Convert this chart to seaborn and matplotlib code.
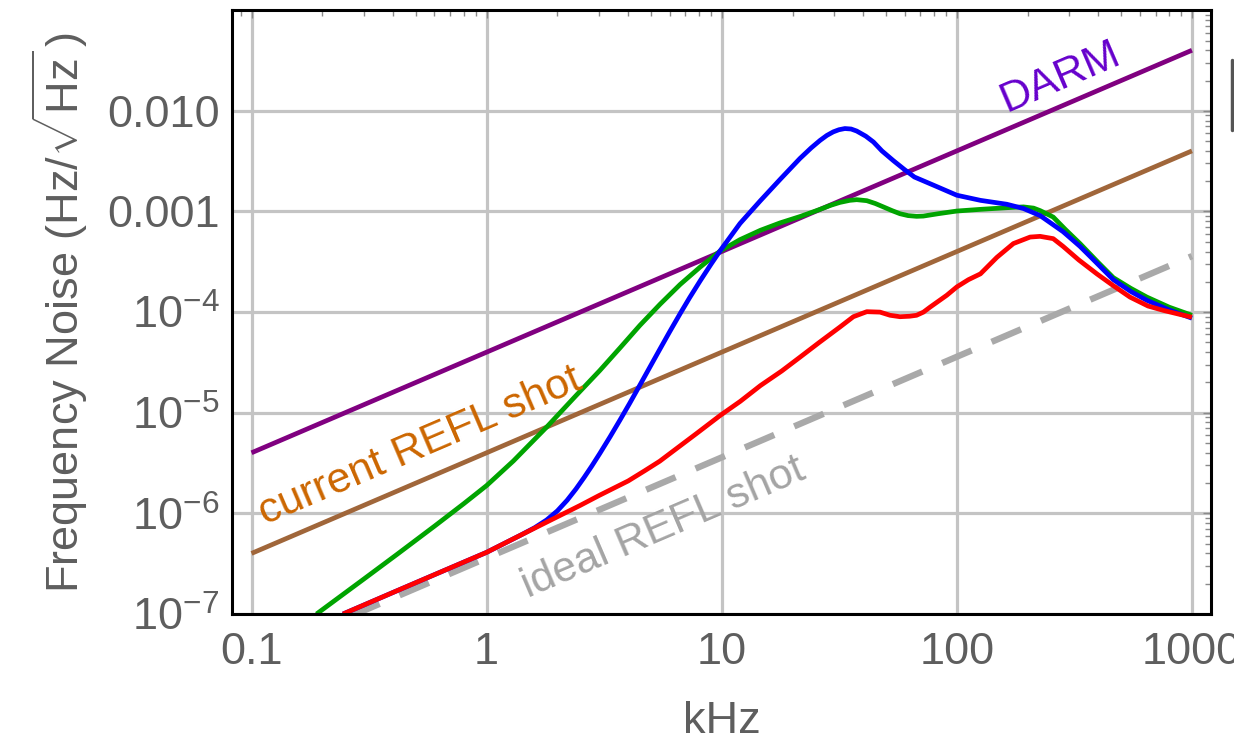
import matplotlib
matplotlib.use("Agg")
import matplotlib.pyplot as plt
import seaborn as sns
import pandas as pd
from matplotlib.ticker import FixedLocator, FixedFormatter, LogLocator, NullFormatter
from matplotlib.lines import Line2D

# ---- noise budget data: frequency in kHz, noise in Hz/sqrt(Hz) ----
darm_f = [0.1, 1000]
darm_v = [4.0e-6, 4.0e-2]

current_f = [0.1, 1000]
current_v = [4.0e-7, 4.0e-3]

ideal_f = [0.1, 1000]
ideal_v = [3.6e-8, 3.6e-4]

green_f = [0.189, 0.3, 0.415, 0.6, 0.8, 1.0, 1.3, 1.8, 2.4, 3.03, 3.69, 4.49, 5.47,
           6.65, 8.09, 9.85, 11.96, 14.6, 17.7, 21.5, 26.2, 29, 31.8, 35, 37.5, 41.4,
           45, 48.7, 53, 57.3, 62, 67.4, 72, 83.3, 100, 126, 163, 192, 212, 226,
           257, 290, 334, 400, 463, 550, 643, 800, 1000]
green_v = [1.0e-7, 2.22e-7, 3.9e-7, 7.46e-7, 1.25e-6, 1.89e-6, 3.32e-6, 7.2e-6,
           1.48e-5, 2.63e-5, 4.4e-5, 7.4e-5, 1.2e-4, 1.88e-4, 2.8e-4, 4.05e-4,
           5.25e-4, 6.5e-4, 7.7e-4, 8.9e-4, 1.05e-3, 1.15e-3, 1.23e-3, 1.29e-3,
           1.31e-3, 1.28e-3, 1.2e-3, 1.11e-3, 1.02e-3, 9.5e-4, 9.1e-4, 8.95e-4,
           9.0e-4, 9.5e-4, 1.01e-3, 1.05e-3, 1.09e-3, 1.11e-3, 1.08e-3, 1.02e-3,
           8.8e-4, 6.6e-4, 4.8e-4, 3.1e-4, 2.2e-4, 1.72e-4, 1.41e-4, 1.12e-4, 9.3e-5]

blue_f = [0.245, 0.415, 0.6, 1.0, 1.4, 1.6, 1.8, 2.0, 2.2, 2.4, 2.6, 2.8, 3.03, 3.35,
          3.69, 4.05, 4.49, 5.0, 5.47, 6.0, 6.65, 7.3, 8.09, 9.0, 9.85, 11.96, 14.6,
          17.7, 21.5, 24, 26.2, 28, 29.8, 31.5, 33.4, 35.5, 37.5, 41, 44.2, 48, 53.7,
          60, 66, 79.8, 100, 126, 163, 192, 226, 283, 334, 370, 463, 550, 643, 800,
          1000]
blue_v = [1.0e-7, 1.7e-7, 2.46e-7, 4.1e-7, 6.1e-7, 7.2e-7, 8.6e-7, 1.06e-6, 1.35e-6,
          1.75e-6, 2.28e-6, 2.95e-6, 3.94e-6, 5.77e-6, 8.45e-6, 1.23e-5, 1.89e-5,
          2.97e-5, 4.33e-5, 6.36e-5, 9.64e-5, 1.39e-4, 2.04e-4, 2.99e-4, 4.08e-4,
          7.6e-4, 1.28e-3, 2.08e-3, 3.36e-3, 4.28e-3, 5.09e-3, 5.7e-3, 6.18e-3,
          6.49e-3, 6.67e-3, 6.6e-3, 6.3e-3, 5.6e-3, 4.9e-3, 4.0e-3, 3.2e-3, 2.6e-3,
          2.2e-3, 1.82e-3, 1.45e-3, 1.29e-3, 1.18e-3, 1.07e-3, 9.1e-4, 6.3e-4,
          4.5e-4, 3.55e-4, 2.1e-4, 1.6e-4, 1.31e-4, 1.05e-4, 8.7e-5]

red_f = [0.245, 0.415, 0.6, 1.0, 1.4, 1.86, 2.5, 3.0, 4.0, 4.7, 5.45, 6.5, 7.8, 9.85,
         12, 14.6, 18, 21.5, 26, 31.8, 36.3, 41.4, 47.1, 52, 57.3, 63, 67.4, 72.1,
         76.9, 90.6, 100, 112, 126, 148, 174, 205, 226, 257, 283, 330, 394, 460,
         545, 650, 756, 870, 1000]
red_v = [1.0e-7, 1.7e-7, 2.46e-7, 4.1e-7, 6.1e-7, 8.5e-7, 1.2e-6, 1.5e-6, 2.1e-6,
         2.65e-6, 3.3e-6, 4.5e-6, 6.2e-6, 9.4e-6, 1.3e-5, 1.86e-5, 2.6e-5, 3.56e-5,
         5.0e-5, 7.1e-5, 9.0e-5, 1.01e-4, 1.0e-4, 9.3e-5, 9.0e-5, 9.1e-5, 9.3e-5,
         1.0e-4, 1.12e-4, 1.47e-4, 1.78e-4, 2.1e-4, 2.4e-4, 3.5e-4, 4.8e-4,
         5.57e-4, 5.66e-4, 5.37e-4, 4.5e-4, 3.3e-4, 2.4e-4, 1.85e-4, 1.41e-4,
         1.15e-4, 1.04e-4, 9.6e-5, 8.9e-5]

x_ticks = [0.1, 1, 10, 100, 1000]
x_labels = ["0.1", "1", "10", "100", "1000"]
y_ticks = [1e-7, 1e-6, 1e-5, 1e-4, 1e-3, 1e-2]
y_labels = [r"$10^{-7}$", r"$10^{-6}$", r"$10^{-5}$", r"$10^{-4}$", "0.001", "0.010"]

# ---- style ----
sns.set_theme(style="white")
plt.rcParams["font.family"] = ["Liberation Sans", "DejaVu Sans"]
plt.rcParams["mathtext.fontset"] = "custom"
plt.rcParams["mathtext.rm"] = "Liberation Sans"
plt.rcParams["mathtext.it"] = "Liberation Sans:italic"
plt.rcParams["mathtext.bf"] = "Liberation Sans:bold"
plt.rcParams["mathtext.sf"] = "Liberation Sans"

TEXT_GRAY = "#5e5e5e"
FS = 32.5      # axis text
FS_NOTE = 31   # curve annotations

W, H = 1234, 741
fig = plt.figure(figsize=(W / 100, H / 100), dpi=100)
ax = fig.add_axes([232 / W, 1 - 614 / H, (1211 - 232) / W, (614 - 10) / H])
ax.set_xscale("log")
ax.set_yscale("log")

def draw(f, v, color, lw=3.4, **kw):
    df = pd.DataFrame({"f": f, "v": v})
    sns.lineplot(data=df, x="f", y="v", ax=ax, color=color, lw=lw,
                 sort=False, estimator=None, **kw)
    ax.lines[-1].set_solid_capstyle("butt")
    ax.lines[-1].set_solid_joinstyle("round")

draw(ideal_f, ideal_v, "#a9a9a9", lw=4.6)
ax.lines[-1].set_dashes((5.0, 3.4))
draw(darm_f, darm_v, "#800080")
draw(current_f, current_v, "#a0663a")
draw(green_f, green_v, "#00a400")
draw(blue_f, blue_v, "#0000ff")
draw(red_f, red_v, "#ff0000")

ax.set_xlim(0.0826, 1205)
ax.set_ylim(1e-7, 0.1005)

# grid and frame
ax.set_axisbelow(True)
ax.grid(True, which="major", color="#c4c4c4", lw=2.3)
for s in ax.spines.values():
    s.set_color("black")
    s.set_linewidth(2.2)

ax.xaxis.set_major_locator(FixedLocator(x_ticks))
ax.xaxis.set_major_formatter(FixedFormatter(x_labels))
ax.yaxis.set_major_locator(FixedLocator(y_ticks))
ax.yaxis.set_major_formatter(FixedFormatter(y_labels))
ax.xaxis.set_minor_locator(LogLocator(base=10, subs=range(2, 10), numticks=20))
ax.yaxis.set_minor_locator(LogLocator(base=10, subs=range(2, 10), numticks=20))
ax.xaxis.set_minor_formatter(NullFormatter())
ax.yaxis.set_minor_formatter(NullFormatter())

ax.tick_params(which="both", direction="in", top=True, right=True,
               color="#8a8a8a", width=1.0)
ax.tick_params(which="major", length=6)
ax.tick_params(which="minor", length=4)
ax.tick_params(axis="x", which="major", labelsize=FS, labelcolor=TEXT_GRAY, pad=13)
ax.tick_params(axis="y", which="major", labelsize=FS, labelcolor=TEXT_GRAY, pad=9)

ax.set_xlabel("kHz", fontsize=FS, color=TEXT_GRAY, labelpad=20)
ax.set_ylabel(r"Frequency Noise $(\mathrm{Hz}/\sqrt{\mathrm{Hz}}\,)$",
              fontsize=FS, color=TEXT_GRAY, labelpad=12)

# curve annotations
ax.text(275, 0.0216, "DARM", color="#6600cc", fontsize=FS_NOTE, rotation=23.2,
        ha="center", va="center", rotation_mode="anchor")
ax.text(0.521, 4.6e-6, "current REFL shot", color="#cc6600", fontsize=FS_NOTE,
        rotation=23.2, ha="center", va="center", rotation_mode="anchor")
ax.text(5.68, 7.2e-7, "ideal REFL shot", color="#a4a4a4", fontsize=FS_NOTE,
        rotation=23.2, ha="center", va="center", rotation_mode="anchor")

# edge of a neighbouring panel
fig.add_artist(Line2D([1232 / W, 1232 / W], [1 - 60 / H, 1 - 130 / H],
                      transform=fig.transFigure, color="#555555", lw=2.5))

fig.savefig("out.png", dpi=100)
